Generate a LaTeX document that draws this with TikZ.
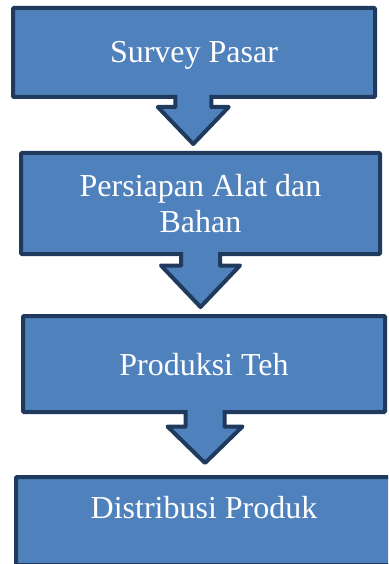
\documentclass[tikz,border=0pt]{standalone}
\usepackage{fontspec}
\setmainfont{Liberation Serif}
\usetikzlibrary{calc}
\definecolor{boxfill}{HTML}{4F81BD}
\definecolor{boxline}{HTML}{1F3A5C}
\tikzset{
  box/.style={draw=boxline, fill=boxfill, line width=4pt, rounded corners=1pt,
    text=white, font=\fontsize{32}{36}\selectfont, align=center,
    inner sep=0pt, outer sep=0pt},
  arrline/.style={draw=boxline, line width=4pt, line join=round},
}
% #1 from node, #2 to node, #3 x offset, #4 shaft half, #5 head half, #6 shoulder dy, #7 gap
\newcommand\blockarr[7]{%
  \coordinate (tip-#1) at ($(#1.south |- #2.north)+(#3,-#7)$);
  \fill[boxfill] ($(#1.south)+({#3-#4},-5)$) -- ($(#1.south)+({#3-#4},#6)$)
    -- ($(#1.south)+({#3-#5},#6)$) -- (tip-#1) -- ($(#1.south)+({#3+#5},#6)$)
    -- ($(#1.south)+({#3+#4},#6)$) -- ($(#1.south)+({#3+#4},-5)$) -- cycle;
  \draw[arrline] ($(#1.south)+({#3-#4},-2)$) -- ($(#1.south)+({#3-#4},#6)$)
    -- ($(#1.south)+({#3-#5},#6)$) -- (tip-#1) -- ($(#1.south)+({#3+#5},#6)$)
    -- ($(#1.south)+({#3+#4},#6)$) -- ($(#1.south)+({#3+#4},-2)$);
}
\begin{document}
\begin{tikzpicture}[x=1pt,y=-1pt]
\useasboundingbox (0,0) rectangle (388,564);
\begin{scope}
\clip (0,0) rectangle (388,564);
\node[box, minimum width=362pt, minimum height=89pt, text height=22pt, text depth=1pt] (b1) at (194,52.5) {Survey Pasar};
\node[box, minimum width=359pt, minimum height=101pt] (b2) at (200.5,203.5) {Persiapan Alat dan\\Bahan};
\node[box, minimum width=362pt, minimum height=96pt, text height=22pt, text depth=0pt] (b3) at (204,364) {Produksi Teh};
\node[box, minimum width=376pt, minimum height=88pt, text height=22pt, text depth=28pt] (b4) at (204,521) {Distribusi Produk};
\blockarr{b1}{b2}{-0.75}{18}{35.5}{10}{9}
\blockarr{b2}{b3}{0}{19.5}{39.5}{11.5}{9}
\blockarr{b3}{b4}{1}{19.5}{37.5}{14.5}{14}
\end{scope}
\end{tikzpicture}
\end{document}
